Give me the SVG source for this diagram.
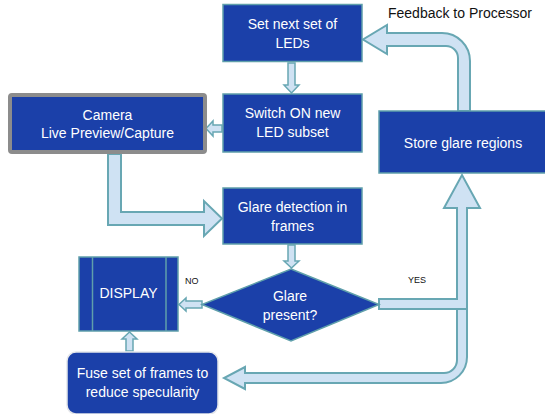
<svg xmlns="http://www.w3.org/2000/svg" width="545" height="414" viewBox="0 0 545 414">
<style>
.box{fill:#1b40a9;stroke:#5f9fab;stroke-width:1.5}
.t{font-family:"Liberation Sans",Arial,sans-serif;font-size:14px;fill:#ffffff;text-anchor:middle}
.lbl{font-family:"Liberation Sans",Arial,sans-serif;fill:#111111}
.arr{fill:#cfe2f3;stroke:#68a7b3;stroke-width:2;stroke-linejoin:miter}
.sarr{fill:#cfe2f3;stroke:#68a7b3;stroke-width:1.5}
</style>
<rect width="545" height="414" fill="#ffffff"/>
<g id="connectors">
<path class="arr" d="M458,111 L458,58 A12,12 0 0 0 446,46 L387,46 L387,54 L363,39.5 L387,25 L387,33 L442,33 A28,28 0 0 1 470,61 L470,111 Z"/>
<path class="arr" d="M108,154 L108,225 L204,225 L204,236 L222,218.5 L204,201 L204,212 L121,212 L121,154 Z"/>
<path class="arr" d="M457,309 L457,360 A13,13 0 0 1 444,373 L245,373 L245,367 L224,378 L245,389 L245,383 L441,383 A26,26 0 0 0 467,357 L467,309 Z"/>
<path class="arr" d="M379,299 L457,299 L457,208 L444,208 L462,175 L480,208 L467,208 L467,309 L379,309 Z"/>
<path class="sarr" d="M288,63 L288,85 L284,85 L291.5,93 L299,85 L295,85 L295,63 Z"/>
<path class="sarr" d="M222,125 L213,125 L213,121 L206,128.5 L213,136 L213,132 L222,132 Z"/>
<path class="sarr" d="M288,245 L288,261 L284,261 L291.5,268 L299,261 L295,261 L295,245 Z"/>
<path class="sarr" d="M202,301 L186,301 L186,298 L179,304.5 L186,311 L186,308 L202,308 Z"/>
<path class="sarr" d="M126,351 L126,339 L122,339 L129.5,332 L137,339 L133,339 L133,351 Z"/>
<text class="lbl" x="388" y="18" font-size="14">Feedback to Processor</text>
<text class="lbl" x="408" y="283" font-size="9">YES</text>
<text class="lbl" x="185" y="284" font-size="9">NO</text>
</g>
<g id="set-leds">
<rect class="box" x="223" y="4.5" width="139" height="57"/>
<text class="t" x="292.5" y="29">Set next set of</text>
<text class="t" x="292.5" y="48">LEDs</text>
</g>
<g id="switch-on">
<rect class="box" x="223" y="94" width="139" height="58"/>
<text class="t" x="292.5" y="118">Switch ON new</text>
<text class="t" x="292.5" y="137">LED subset</text>
</g>
<g id="camera">
<rect x="10" y="95" width="195" height="57" rx="2" fill="#1b40a9" stroke="#8c8c8c" stroke-width="4"/>
<text class="t" x="107.5" y="120">Camera</text>
<text class="t" x="107.5" y="138">Live Preview/Capture</text>
</g>
<g id="store-glare">
<rect class="box" x="379" y="111" width="170" height="62"/>
<text class="t" x="463" y="148">Store glare regions</text>
</g>
<g id="glare-detection">
<rect class="box" x="223" y="188" width="139" height="56"/>
<text class="t" x="292.5" y="212">Glare detection in</text>
<text class="t" x="292.5" y="231">frames</text>
</g>
<g id="glare-present">
<polygon class="box" points="291,269 379,304.5 291,341 202,304.5"/>
<text class="t" x="290" y="301">Glare</text>
<text class="t" x="290" y="320">present?</text>
</g>
<g id="display">
<rect class="box" x="79" y="257" width="99" height="74"/>
<line x1="92.5" y1="257" x2="92.5" y2="331" stroke="#5f9fab" stroke-width="1.5"/>
<line x1="166" y1="257" x2="166" y2="331" stroke="#5f9fab" stroke-width="1.5"/>
<text class="t" x="128.5" y="298">DISPLAY</text>
</g>
<g id="fuse">
<rect x="67" y="352" width="151" height="62" rx="9" fill="#1b40a9" stroke="#e4e6ea" stroke-width="1.5"/>
<text class="t" x="142.5" y="378">Fuse set of frames to</text>
<text class="t" x="142.5" y="397">reduce specularity</text>
</g>
</svg>
